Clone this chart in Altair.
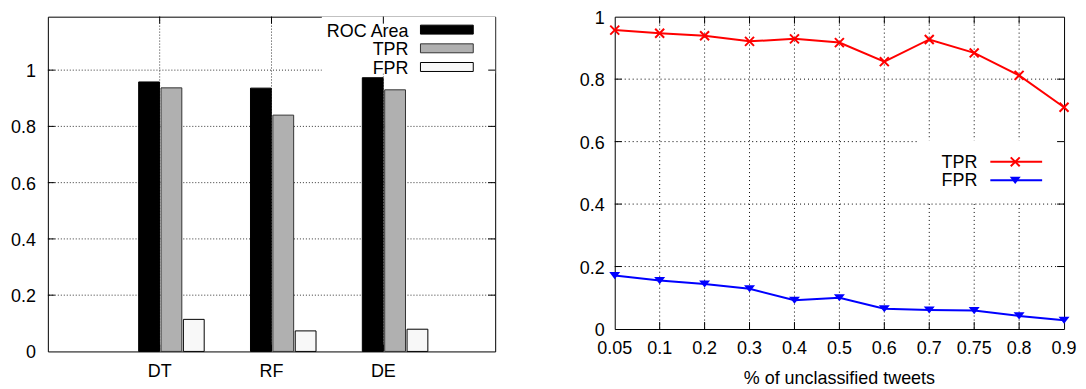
import altair as alt
import pandas as pd

# ---------------- data (left: bar chart) ----------------
classifiers = ["DT", "RF", "DE"]
metrics = ["ROC Area", "TPR", "FPR"]
roc_area = [0.958, 0.936, 0.973]
tpr_bars = [0.937, 0.840, 0.930]
fpr_bars = [0.114, 0.073, 0.079]
left_ticks = [0, 0.2, 0.4, 0.6, 0.8, 1]

# ---------------- data (right: line chart) ----------------
unclassified = ["0.05", "0.1", "0.2", "0.3", "0.4", "0.5", "0.6", "0.7", "0.75", "0.8", "0.9"]
tpr_line = [0.957, 0.947, 0.939, 0.921, 0.929, 0.917, 0.856, 0.927, 0.884, 0.812, 0.710]
fpr_line = [0.171, 0.155, 0.144, 0.129, 0.092, 0.100, 0.065, 0.061, 0.059, 0.042, 0.028]
right_ticks = [0, 0.2, 0.4, 0.6, 0.8, 1]
x_title = "% of unclassified tweets"

# ---------------- styles ----------------
FONT = "Liberation Sans"
FS = 18
bar_fills = ["#000000", "#b0b0b0", "#f8f8f8"]
bar_strokes = ["#000000", "#333333", "#000000"]
RED = "#ff0000"
BLUE = "#0000ff"
LW, LH = 449, 336
RW, RH = 451, 313.5
TICK = 7
X_PATH = "M-1,-1L1,1M-1,1L1,-1"
TRI_PATH = "M-1,-0.65L1,-0.65L0,0.65Z"

one = pd.DataFrame({"a": [0]})


def txt(**kw):
    return dict(font=FONT, fontSize=FS, color="black", **kw)


# ================= LEFT CHART =================
rows = []
for i, c in enumerate(classifiers):
    for k, vals in enumerate([roc_area, tpr_bars, fpr_bars]):
        rows.append({"classifier": c, "pos": i + 1, "metric": metrics[k], "k": k, "value": vals[i]})
bars_df = pd.DataFrame(rows)

xs = alt.Scale(domain=[0, len(classifiers) + 1], nice=False, zero=False)
ys = alt.Scale(domain=[0, 1.19], nice=False)

pos_df = pd.DataFrame({"p": list(range(1, len(classifiers) + 1)), "t": classifiers})
lt_df = pd.DataFrame({"v": left_ticks[1:]})
lt_lab = pd.DataFrame({"v": left_ticks, "t": [f"{v:g}" for v in left_ticks]})

l_hgrid = alt.Chart(lt_df).mark_rule(color="#333333", strokeDash=[1, 2], strokeWidth=1).encode(
    y=alt.Y("v:Q", scale=ys, axis=None))
l_vgrid = alt.Chart(pos_df).mark_rule(color="#333333", strokeDash=[1, 2], strokeWidth=1).encode(
    x=alt.X("p:Q", scale=xs, axis=None))
l_box = alt.Chart(one).mark_rect(color="white").encode(
    x=alt.value(275), x2=alt.value(LW), y=alt.value(0), y2=alt.value(57))

bars = alt.Chart(bars_df).transform_calculate(
    x0="datum.pos + 0.2*datum.k - 0.188",
    x1="datum.pos + 0.2*datum.k - 0.002",
).mark_rect(strokeWidth=1).encode(
    x=alt.X("x0:Q", scale=xs, axis=None),
    x2="x1:Q",
    y=alt.Y("value:Q", scale=ys, axis=None),
    y2=alt.datum(0),
    fill=alt.Fill("metric:N", scale=alt.Scale(domain=metrics, range=bar_fills), legend=None),
    stroke=alt.Stroke("metric:N", scale=alt.Scale(domain=metrics, range=bar_strokes), legend=None),
)

l_tick_l = alt.Chart(lt_df).mark_rule(color="black").encode(
    y=alt.Y("v:Q", scale=ys, axis=None), x=alt.value(0), x2=alt.value(TICK))
l_tick_r = alt.Chart(lt_df).mark_rule(color="black").encode(
    y=alt.Y("v:Q", scale=ys, axis=None), x=alt.value(LW - TICK), x2=alt.value(LW))
l_tick_t = alt.Chart(pos_df).mark_rule(color="black").encode(
    x=alt.X("p:Q", scale=xs, axis=None), y=alt.value(0), y2=alt.value(TICK))
l_tick_b = alt.Chart(pos_df).mark_rule(color="black").encode(
    x=alt.X("p:Q", scale=xs, axis=None), y=alt.value(LH - TICK), y2=alt.value(LH))

l_ylab = alt.Chart(lt_lab).mark_text(**txt(align="right", baseline="middle", dy=2)).encode(
    y=alt.Y("v:Q", scale=ys, axis=None), x=alt.value(-12), text="t:N")
l_xlab = alt.Chart(pos_df).mark_text(**txt(align="center", baseline="alphabetic")).encode(
    x=alt.X("p:Q", scale=xs, axis=None), y=alt.value(LH + 26), text="t:N")

l_leg = []
for i, m in enumerate(metrics):
    cy = 13 + 18.75 * i
    d = pd.DataFrame({"label": [m]})
    l_leg.append(alt.Chart(d).mark_rect(fill=bar_fills[i], stroke=bar_strokes[i], strokeWidth=1).encode(
        x=alt.value(374), x2=alt.value(427), y=alt.value(cy - 4.5), y2=alt.value(cy + 4.5)))
    l_leg.append(alt.Chart(d).mark_text(**txt(align="right", baseline="middle")).encode(
        x=alt.value(362), y=alt.value(cy + 2), text="label:N"))

left = alt.layer(l_hgrid, l_vgrid, l_box, bars, l_tick_l, l_tick_r, l_tick_t, l_tick_b,
                 l_ylab, l_xlab, *l_leg).properties(width=LW, height=LH)

# ================= RIGHT CHART =================
rx = alt.Scale(type="point", domain=unclassified, padding=0)
ry = alt.Scale(domain=[0, 1], nice=False)
line_df = pd.DataFrame({"u": unclassified, "tpr": tpr_line, "fpr": fpr_line})
ug_df = pd.DataFrame({"u": unclassified[1:-1]})
rt_df = pd.DataFrame({"v": right_ticks[1:-1]})
rt_lab = pd.DataFrame({"v": right_ticks, "t": [f"{v:g}" for v in right_ticks]})
ux_lab = pd.DataFrame({"u": unclassified})

r_hgrid = alt.Chart(rt_df).mark_rule(color="#000000", strokeDash=[1, 3], strokeWidth=1).encode(
    y=alt.Y("v:Q", scale=ry, axis=None))
r_vgrid = alt.Chart(ug_df).mark_rule(color="#000000", strokeDash=[1, 3], strokeWidth=1).encode(
    x=alt.X("u:O", scale=rx, axis=None))
r_box = alt.Chart(one).mark_rect(color="white").encode(
    x=alt.value(304), x2=alt.value(RW), y=alt.value(124), y2=alt.value(185))

tpr_l = alt.Chart(line_df).mark_line(color=RED, strokeWidth=2).encode(
    x=alt.X("u:O", scale=rx, axis=None),
    y=alt.Y("tpr:Q", scale=ry, axis=None))
tpr_p = alt.Chart(line_df).mark_point(shape=X_PATH, filled=False, color=RED, strokeWidth=2,
                                      size=81, opacity=1).encode(
    x=alt.X("u:O", scale=rx, axis=None),
    y=alt.Y("tpr:Q", scale=ry, axis=None))
fpr_l = alt.Chart(line_df).mark_line(color=BLUE, strokeWidth=2).encode(
    x=alt.X("u:O", scale=rx, axis=None),
    y=alt.Y("fpr:Q", scale=ry, axis=None))
fpr_p = alt.Chart(line_df).mark_point(shape=TRI_PATH, filled=True, color=BLUE, size=121,
                                      opacity=1).encode(
    x=alt.X("u:O", scale=rx, axis=None),
    y=alt.Y("fpr:Q", scale=ry, axis=None))

r_tick_l = alt.Chart(rt_df).mark_rule(color="black").encode(
    y=alt.Y("v:Q", scale=ry, axis=None), x=alt.value(0), x2=alt.value(TICK))
r_tick_r = alt.Chart(rt_df).mark_rule(color="black").encode(
    y=alt.Y("v:Q", scale=ry, axis=None), x=alt.value(RW - TICK), x2=alt.value(RW))
r_tick_t = alt.Chart(ug_df).mark_rule(color="black").encode(
    x=alt.X("u:O", scale=rx, axis=None), y=alt.value(0), y2=alt.value(TICK))
r_tick_b = alt.Chart(ug_df).mark_rule(color="black").encode(
    x=alt.X("u:O", scale=rx, axis=None), y=alt.value(RH - TICK), y2=alt.value(RH))

r_ylab = alt.Chart(rt_lab).mark_text(**txt(align="right", baseline="middle", dy=2)).encode(
    y=alt.Y("v:Q", scale=ry, axis=None), x=alt.value(-10), text="t:N")
r_xlab = alt.Chart(ux_lab).mark_text(**txt(align="center", baseline="alphabetic")).encode(
    x=alt.X("u:O", scale=rx, axis=None), y=alt.value(RH + 25.5), text="u:N")
r_title = alt.Chart(pd.DataFrame({"t": [x_title]})).mark_text(
    **txt(align="center", baseline="alphabetic")).encode(
    x=alt.value(RW / 2), y=alt.value(RH + 55), text="t:N")

r_leg = []
for name, col, shape, size, filled, cy in [("TPR", RED, X_PATH, 81, False, 145.7),
                                           ("FPR", BLUE, TRI_PATH, 121, True, 164.3)]:
    d = pd.DataFrame({"label": [name]})
    r_leg.append(alt.Chart(d).mark_rule(color=col, strokeWidth=2).encode(
        x=alt.value(377), x2=alt.value(429), y=alt.value(cy)))
    if filled:
        r_leg.append(alt.Chart(d).mark_point(shape=shape, filled=True, color=col, size=size,
                                             opacity=1).encode(x=alt.value(402), y=alt.value(cy)))
    else:
        r_leg.append(alt.Chart(d).mark_point(shape=shape, filled=False, color=col, size=size,
                                             strokeWidth=2, opacity=1).encode(
            x=alt.value(402), y=alt.value(cy)))
    r_leg.append(alt.Chart(d).mark_text(**txt(align="right", baseline="middle")).encode(
        x=alt.value(364), y=alt.value(cy + 1), text="label:N"))

right = alt.layer(r_hgrid, r_vgrid, r_box, tpr_l, tpr_p, fpr_l, fpr_p,
                  r_tick_l, r_tick_r, r_tick_t, r_tick_b, r_ylab, r_xlab, r_title,
                  *r_leg).properties(width=RW, height=RH)

chart = alt.hconcat(left, right, spacing=120, bounds="flush").properties(
    padding={"left": 2, "top": 0, "right": 0, "bottom": 0},
    background="white",
).configure_view(stroke="black", strokeWidth=1)

chart.save("out.html", embed_options={"renderer": "svg", "actions": False})
